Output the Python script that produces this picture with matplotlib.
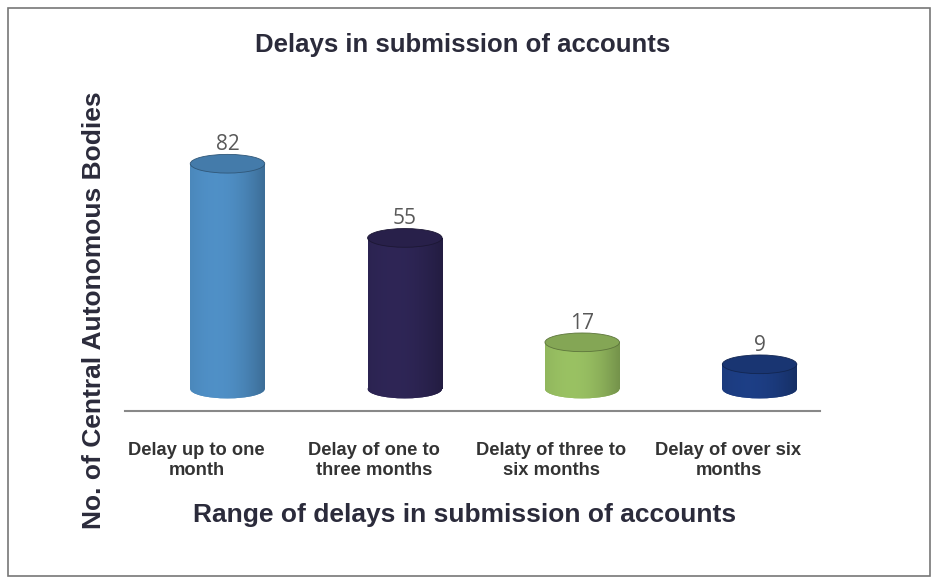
import numpy as np
import matplotlib.pyplot as plt
from matplotlib.patches import Ellipse, Rectangle
from matplotlib.colors import to_rgb

categories = ["Delay up to one\nmonth", "Delay of one to\nthree months",
              "Delaty of three to\nsix months", "Delay of over six\nmonths"]
values = [82, 55, 17, 9]
colors = ["#4a86b9", "#2b2350", "#8fb45c", "#1b3a7c"]

plt.rcParams['font.family'] = ['Liberation Sans', 'DejaVu Sans']

fig = plt.figure(figsize=(9.37, 5.83), dpi=100)
ax = fig.add_axes([0.133, 0.295, 0.742, 0.542])

x = np.arange(len(values))
width = 0.42
ell_h = 6.8

ax.set_xlim(-0.58, 3.34)
ax.set_ylim(-8, 107)


def shade(c, k):
    r = np.array(to_rgb(c))
    return np.clip(r * k, 0, 1)


for xi, v, c in zip(x, values, colors):
    # cylinder body
    bars = ax.bar(xi, v, width=width, bottom=0, color=c, edgecolor="none", zorder=2)
    body = bars[0]
    bottom = Ellipse((xi, 0), width, ell_h, facecolor=c, edgecolor="none", zorder=2)
    ax.add_patch(bottom)
    # horizontal shading across the body
    t = np.linspace(-1, 1, 200)
    k = 0.86 + 0.2 * np.cos(t * 1.3) - 0.1 * t
    grad = np.array([[shade(c, kk) for kk in k]])
    for patch in (body, bottom):
        im = ax.imshow(grad, extent=(xi - width / 2, xi + width / 2, -ell_h, v),
                       aspect="auto", zorder=3, interpolation="bilinear")
        im.set_clip_path(patch)
    top = Ellipse((xi, v), width, ell_h, facecolor=shade(c, 0.92),
                  edgecolor=shade(c, 0.65), linewidth=0.6, zorder=4)
    ax.add_patch(top)
    ax.text(xi, v + ell_h / 2 - 0.3, str(v), ha="center", va="bottom",
            fontsize=15, color="#595959", family=["Open Sans", "DejaVu Sans"], zorder=5)

for s in ["top", "right", "left"]:
    ax.spines[s].set_visible(False)
ax.spines["bottom"].set_color("#888888")
ax.spines["bottom"].set_linewidth(1.5)
ax.set_yticks([])
ax.set_xticks(x - 0.175)
ax.set_xticklabels(categories, fontsize=13.2, fontweight="bold", color="#333333",
                   linespacing=1.25)
ax.tick_params(axis="x", length=0, pad=22)

fig.text(0.494, 0.922, "Delays in submission of accounts", ha="center", va="center",
         fontsize=18.5, fontweight="bold", color="#2b2b3b")
fig.text(0.1, 0.468, "No. of Central Autonomous Bodies", rotation=90, ha="center",
         va="center", fontsize=19, fontweight="bold", color="#2b2b3b")
fig.text(0.496, 0.117, "Range of delays in submission of accounts", ha="center",
         va="center", fontsize=19, fontweight="bold", color="#2b2b3b")

fig.patches.append(Rectangle((8 / 937, 1 - 576 / 583), 922 / 937, 568 / 583,
                             transform=fig.transFigure, fill=False,
                             edgecolor="#777777", linewidth=1.2))

plt.savefig("out.png", dpi=100)
